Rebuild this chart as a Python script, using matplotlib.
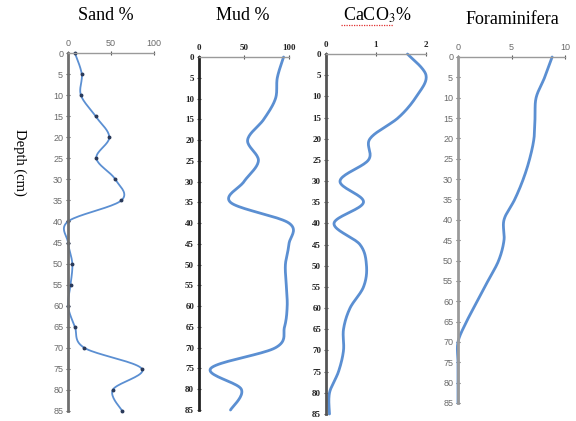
import numpy as np
import matplotlib
matplotlib.use('Agg')
import matplotlib.pyplot as plt
from matplotlib.lines import Line2D

plt.rcParams['mathtext.fontset'] = 'stix'

# depth (cm) of every sample
depth = [0, 5, 10, 15, 20, 25, 30, 35, 40, 45, 50, 55, 60, 65, 70, 75, 80, 85]

sand = [8, 16, 15, 32, 48, 33, 55, 62, 0, 0, 5, 3, 0, 8, 19, 86, 52, 63]
mud = [94, 87, 85, 72, 54, 66, 50, 35, 100, 100, 96, 97, 98, 95, 85, 13, 47, 35]
caco3 = [1.63, 2.0, 1.81, 1.45, 0.88, 0.85, 0.28, 0.75, 0.16, 0.68, 0.81, 0.75,
         0.48, 0.35, 0.35, 0.25, 0.07, 0.07]
foram = [8.8, 8.1, 7.3, 7.2, 7.1, 6.7, 6.1, 5.3, 4.3, 4.3, 3.8, 2.8, 1.8, 0.8,
         0, 0, 0, 0]

titles = ['Sand %', 'Mud %', r'CaCO$_3$%', 'Foraminifera']
xticks = [[0, 50, 100], [0, 50, 100], [0, 1, 2], [0, 5, 10]]
yticks = list(range(0, 90, 5))

blue = '#5b8fd2'
W, H = 576, 421


def smooth(xs, ys, n=20):
    # catmull-rom curve through the points, like excel's smoothed line
    p = np.column_stack([xs, ys]).astype(float)
    p = np.vstack([p[0], p, p[-1]])
    out = []
    t = np.linspace(0, 1, n, endpoint=False)[:, None]
    for i in range(1, len(p) - 2):
        p0, p1, p2, p3 = p[i - 1], p[i], p[i + 1], p[i + 2]
        seg = 0.5 * ((2 * p1) + (-p0 + p2) * t + (2 * p0 - 5 * p1 + 4 * p2 - p3) * t ** 2
                     + (-p0 + 3 * p1 - 3 * p2 + p3) * t ** 3)
        out.append(seg)
    out.append(p[-2][None, :])
    out = np.vstack(out)
    return out[:, 0], out[:, 1]


def panel(box, xlim, ticks, tick_font, tick_color, spine_color):
    l, t, r, b = box
    ax = fig.add_axes([l / W, 1 - b / H, (r - l) / W, (b - t) / H])
    ax.set_xlim(*xlim)
    ax.set_ylim(85, 0)
    ax.xaxis.tick_top()
    ax.set_xticks(ticks)
    ax.set_yticks(yticks)
    for s in ['right', 'bottom']:
        ax.spines[s].set_visible(False)
    ax.spines['left'].set_linewidth(2)
    ax.spines['left'].set_color(spine_color)
    ax.spines['top'].set_linewidth(1)
    ax.spines['top'].set_color('#9a9a9a')
    ax.tick_params(direction='inout', length=3, width=0.8, color='#555555',
                   labelsize=6.5, labelcolor=tick_color, pad=2)
    for lab in ax.get_xticklabels() + ax.get_yticklabels():
        lab.set_family(tick_font)
        if tick_font == 'Liberation Serif':
            lab.set_fontweight('bold')
    ax.patch.set_alpha(0)
    return ax


fig = plt.figure(figsize=(W / 100, H / 100), dpi=100)

boxes = [(68, 53, 154, 411), (199, 57, 289, 410), (326, 54, 426, 414), (458, 57, 565, 403)]
series = [sand, mud, caco3, foram]
xlims = [(0, 100), (0, 100), (0, 2), (0, 10)]
fonts = ['Liberation Sans', 'Liberation Serif', 'Liberation Serif', 'Liberation Sans']
tcolors = ['#6a6a6a', '#222222', '#222222', '#6a6a6a']
scolors = ['#6f6f6f', '#222222', '#555555', '#9a9a9a']

for i in range(4):
    ax = panel(boxes[i], xlims[i], xticks[i], fonts[i], tcolors[i], scolors[i])
    sx, sy = smooth(series[i], depth)
    if i == 0:
        ax.plot(sx, sy, color=blue, lw=1.3, clip_on=False)
        ax.plot(series[i], depth, 'o', color='#2a3a5a', ms=1.8, clip_on=False)
    else:
        ax.plot(sx, sy, color=blue, lw=2, clip_on=False, solid_capstyle='round')

# titles
fig.text(106 / W, 1 - 15 / H, titles[0], ha='center', va='center',
         family='Liberation Serif', fontsize=13)
fig.text(243 / W, 1 - 15 / H, titles[1], ha='center', va='center',
         family='Liberation Serif', fontsize=13)
fig.text(377 / W, 1 - 15 / H, titles[2], ha='center', va='center',
         family='Liberation Serif', fontsize=13)
fig.text(512 / W, 1 - 20 / H, titles[3], ha='center', va='center',
         family='Liberation Serif', fontsize=13)

# spell-check squiggle under CaCO3
fig.add_artist(Line2D([341 / W, 393 / W], [1 - 25 / H, 1 - 25 / H], color='#e03030',
                      lw=0.9, ls=(0, (1, 1))))

fig.text(20 / W, 1 - 162 / H, 'Depth (cm)', rotation=-90, ha='center', va='center',
         family='Liberation Serif', fontsize=10.5)

fig.savefig('out.png', dpi=100)
